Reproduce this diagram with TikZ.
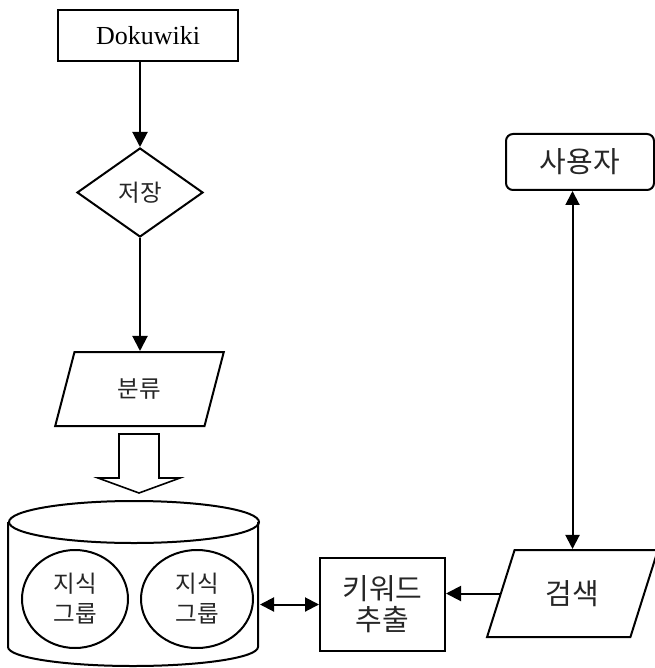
\documentclass[tikz,border=0pt]{standalone}
\usepackage{fontspec}
\setmainfont{Liberation Serif}
\newfontfamily\kr{Noto Sans CJK KR}
\usetikzlibrary{shapes.geometric,arrows.meta}
\begin{document}
\begin{tikzpicture}[x=1pt,y=-1pt,
  line width=2pt,
  box/.style={draw, line width=2pt, inner sep=0pt},
  kos/.style={font=\kr\fontsize{23.5}{30}\selectfont, text=black!85, align=center},
  kob/.style={font=\kr\fontsize{29}{31}\selectfont, text=black!85, align=center},
  arr/.style={-{Triangle[length=15pt 0,width=15pt 0]}},
  darr/.style={{Triangle[length=14pt 0,width=14pt 0]}-{Triangle[length=14pt 0,width=14pt 0]}}
]
\useasboundingbox (0,0) rectangle (654,668);
% nodes
\node[box, minimum width=180pt, minimum height=51pt, font=\fontsize{26}{30}\selectfont] (doku) at (148,35.5) {Dokuwiki};
\node[box, diamond, minimum width=126pt, minimum height=89pt, kos] (store) at (140,192.5) {저장};
\node[box, trapezium, trapezium left angle=72.7, trapezium right angle=107.3, trapezium stretches=true, minimum width=169pt, minimum height=74pt, kos] (cls) at (139.5,389) {분류};
\node[inner sep=0pt, minimum width=250pt, minimum height=165pt] (db) at (134,584.5) {};
\node[box, ellipse, minimum width=106pt, minimum height=98pt, kos] (g1) at (75,599) {지식\\그룹};
\node[box, ellipse, minimum width=112pt, minimum height=98pt, kos] (g2) at (197,599) {지식\\그룹};
\node[box, minimum width=125pt, minimum height=93pt, kob] (kw) at (382.5,604.5) {키워드\\추출};
\node[box, trapezium, trapezium left angle=64.2, trapezium right angle=115.8, trapezium stretches=true, minimum width=171pt, minimum height=87pt, kob] (srch) at (572.5,593.5) {검색};
\node[box, rounded corners=7pt, minimum width=148pt, minimum height=56pt, kob] (user) at (580,162) {사용자};
% cylinder
\draw (db.north) ++(0,21) ellipse [x radius=125pt, y radius=21pt];
\draw (db.north west) ++(0,21) -- ++(0,125) arc[start angle=180, end angle=360, x radius=125pt, y radius=19pt] -- ++(0,-125);
% block arrow
\draw[line width=1.6pt, line join=miter] (119,434) -- (159,434) -- (159,478) -- (180,478) -- (139,493) -- (98,478) -- (119,478) -- cycle;
% connectors
\draw[arr] (doku.south -| store.north) -- (store.north);
\draw[arr] (store.south) -- (store.south |- cls.north);
\draw[darr] (kw.west -| db.east) -- (kw.west);
\draw[arr] (srch.west) -- (srch.west -| kw.east);
\draw[darr] (user.south -| srch.north) -- (srch.north);
\end{tikzpicture}
\end{document}
